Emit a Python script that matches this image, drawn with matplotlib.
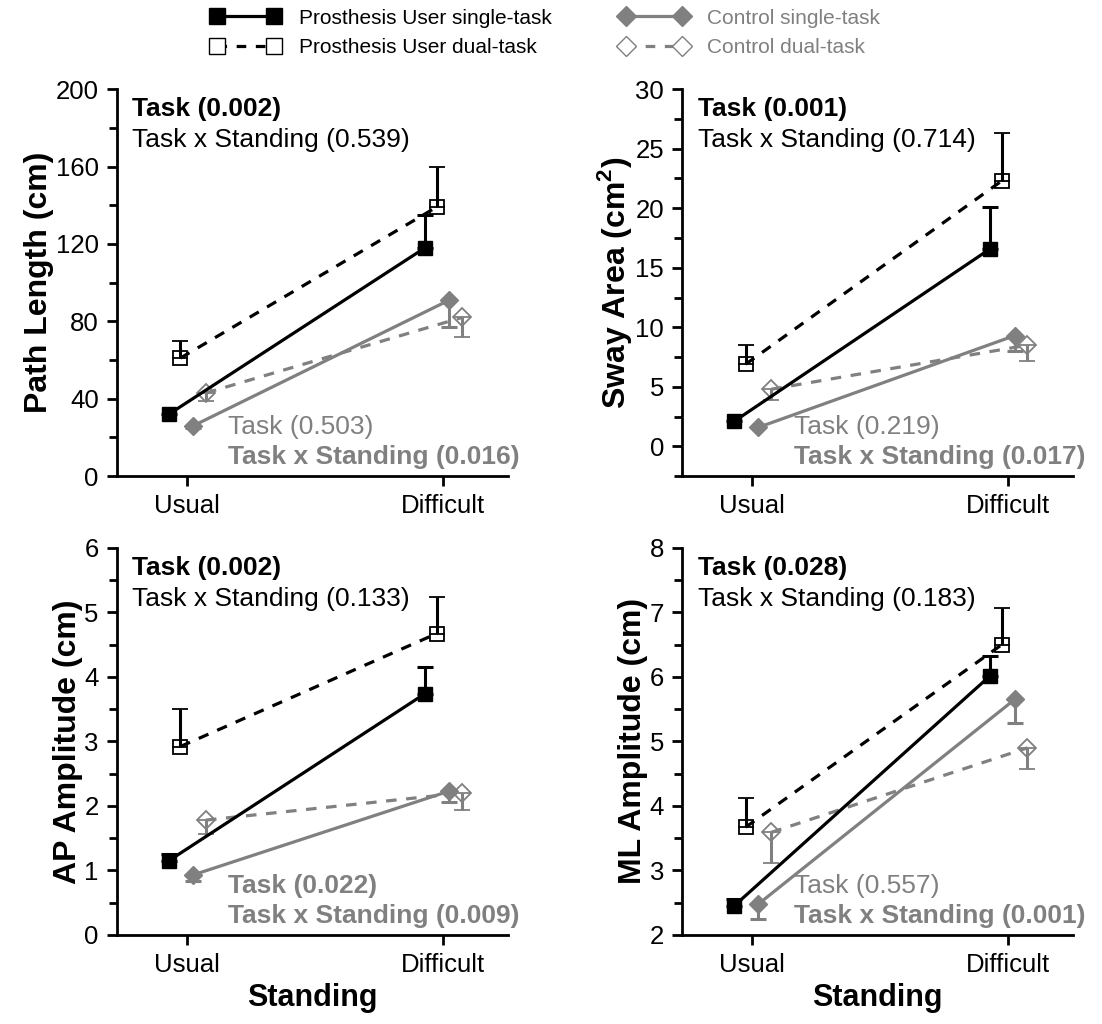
import numpy as np
import matplotlib.pyplot as plt
from matplotlib.ticker import MultipleLocator
from matplotlib.lines import Line2D

plt.rcParams['font.family'] = ['Liberation Sans', 'DejaVu Sans']

standing = ["Usual", "Difficult"]

# means (Usual, Difficult) and error bar lengths (nan = no bar shown)
nan = np.nan
path_pu_single = [32, 118]
path_pu_single_err = [nan, 17]
path_pu_dual = [61, 139]
path_pu_dual_err = [9, 21]
path_ct_single = [26, 91]
path_ct_single_err = [1, 14]
path_ct_dual = [43, 82]
path_ct_dual_err = [4, 10]

sway_pu_single = [2.1, 16.6]
sway_pu_single_err = [nan, 3.5]
sway_pu_dual = [6.9, 22.3]
sway_pu_dual_err = [1.6, 4.0]
sway_ct_single = [1.6, 9.3]
sway_ct_single_err = [nan, 1.3]
sway_ct_dual = [4.8, 8.5]
sway_ct_dual_err = [0.9, 1.3]

ap_pu_single = [1.15, 3.74]
ap_pu_single_err = [0.1, 0.41]
ap_pu_dual = [2.92, 4.67]
ap_pu_dual_err = [0.58, 0.57]
ap_ct_single = [0.93, 2.23]
ap_ct_single_err = [0.1, 0.17]
ap_ct_dual = [1.78, 2.2]
ap_ct_dual_err = [0.21, 0.26]

ml_pu_single = [2.45, 6.02]
ml_pu_single_err = [0.1, 0.31]
ml_pu_dual = [3.67, 6.5]
ml_pu_dual_err = [0.46, 0.57]
ml_ct_single = [2.48, 5.65]
ml_ct_single_err = [0.23, 0.37]
ml_ct_dual = [3.59, 4.9]
ml_ct_dual_err = [0.47, 0.33]

ylabels = ["Path Length (cm)", "Sway Area (cm$^\\mathregular{2}$)", "AP Amplitude (cm)", "ML Amplitude (cm)"]
ylims = [(0, 200), (-2.5, 30), (0, 6), (2, 8)]
ymajor = [40, 5, 1, 1]
yminor = [20, 2.5, 0.5, 0.5]

# stats text: (text, bold)
black_stats = [
    [("Task (0.002)", True), ("Task x Standing (0.539)", False)],
    [("Task (0.001)", True), ("Task x Standing (0.714)", False)],
    [("Task (0.002)", True), ("Task x Standing (0.133)", False)],
    [("Task (0.028)", True), ("Task x Standing (0.183)", False)],
]
gray_stats = [
    [("Task (0.503)", False), ("Task x Standing (0.016)", True)],
    [("Task (0.219)", False), ("Task x Standing (0.017)", True)],
    [("Task (0.022)", True), ("Task x Standing (0.009)", True)],
    [("Task (0.557)", False), ("Task x Standing (0.001)", True)],
]

data = [
    (path_pu_single, path_pu_single_err, path_pu_dual, path_pu_dual_err,
     path_ct_single, path_ct_single_err, path_ct_dual, path_ct_dual_err),
    (sway_pu_single, sway_pu_single_err, sway_pu_dual, sway_pu_dual_err,
     sway_ct_single, sway_ct_single_err, sway_ct_dual, sway_ct_dual_err),
    (ap_pu_single, ap_pu_single_err, ap_pu_dual, ap_pu_dual_err,
     ap_ct_single, ap_ct_single_err, ap_ct_dual, ap_ct_dual_err),
    (ml_pu_single, ml_pu_single_err, ml_pu_dual, ml_pu_dual_err,
     ml_ct_single, ml_ct_single_err, ml_ct_dual, ml_ct_dual_err),
]

gray = '#808080'
fig = plt.figure(figsize=(11.02, 10.24), dpi=100)
positions = [(0.106, 0.535), (0.619, 0.535), (0.106, 0.087), (0.619, 0.087)]
x = np.array([0, 1])
zeros = [0, 0]

for i in range(4):
    ax = fig.add_axes([positions[i][0], positions[i][1], 0.355, 0.378])
    pus, puse, pud, pude, cts, ctse, ctd, ctde = data[i]
    lw = 2.3
    eb = dict(elinewidth=2.2, capsize=6, capthick=2.2)
    # prosthesis users: error bars upward
    ax.errorbar(x - 0.07, pus, yerr=[zeros, puse], color='black', lw=lw,
                marker='s', ms=10, mfc='black', mec='black', zorder=4, **eb)
    ax.errorbar(x - 0.025, pud, yerr=[zeros, pude], color='black', lw=lw, ls=(0, (3.3, 3)),
                marker='s', ms=10, mfc='none', mec='black', mew=1.3, zorder=3, **eb)
    # controls: error bars downward
    ax.errorbar(x + 0.025, cts, yerr=[ctse, zeros], color=gray, lw=lw,
                marker='D', ms=9, mfc=gray, mec=gray, zorder=2, **eb)
    ax.errorbar(x + 0.075, ctd, yerr=[ctde, zeros], color=gray, lw=lw, ls=(0, (3.3, 3)),
                marker='D', ms=9, mfc='none', mec=gray, mew=1.3, zorder=1, **eb)

    ax.set_xlim(-0.273, 1.254)
    ax.set_ylim(*ylims[i])
    ax.set_xticks(x)
    ax.set_xticklabels(standing)
    ax.yaxis.set_major_locator(MultipleLocator(ymajor[i]))
    ax.yaxis.set_minor_locator(MultipleLocator(yminor[i]))
    for s in ['top', 'right']:
        ax.spines[s].set_visible(False)
    for s in ['left', 'bottom']:
        ax.spines[s].set_linewidth(2)
    ax.tick_params(which='major', length=7, width=2, labelsize=18.5, pad=6)
    ax.tick_params(which='minor', length=6, width=2)
    ax.set_ylabel(ylabels[i], fontsize=23, fontweight='bold', labelpad=1)
    if i >= 2:
        ax.set_xlabel("Standing", fontsize=22, fontweight='bold', labelpad=4)

    for (txt, bold), yy in zip(black_stats[i], [0.948, 0.868]):
        ax.text(0.04, yy, txt, transform=ax.transAxes, fontsize=19, va='center',
                fontweight='bold' if bold else 'normal', color='black')
    for (txt, bold), yy in zip(gray_stats[i], [0.127, 0.05]):
        ax.text(0.285, yy, txt, transform=ax.transAxes, fontsize=19, va='center',
                fontweight='bold' if bold else 'normal', color=gray)

handles = [
    Line2D([], [], color='black', lw=2.3, marker='s', ms=11, mfc='black'),
    Line2D([], [], color='black', lw=2.3, ls=(0, (3, 3)), marker='s', ms=11, mfc='white'),
    Line2D([], [], color=gray, lw=2.3, marker='D', ms=10, mfc=gray, mec=gray),
    Line2D([], [], color=gray, lw=2.3, ls=(0, (3, 3)), marker='D', ms=10, mfc='white', mec=gray),
]
labels = ["Prosthesis User single-task", "Prosthesis User dual-task",
          "Control single-task", "Control dual-task"]
leg = fig.legend(handles, labels, loc='upper center', bbox_to_anchor=(0.495, 1.01), ncol=2,
                 frameon=False, fontsize=15, numpoints=2, handlelength=3.3,
                 columnspacing=3.25, handletextpad=0.9, labelspacing=0.5)
for t in leg.get_texts()[2:]:
    t.set_color(gray)

fig.savefig("out.png", dpi=100)
